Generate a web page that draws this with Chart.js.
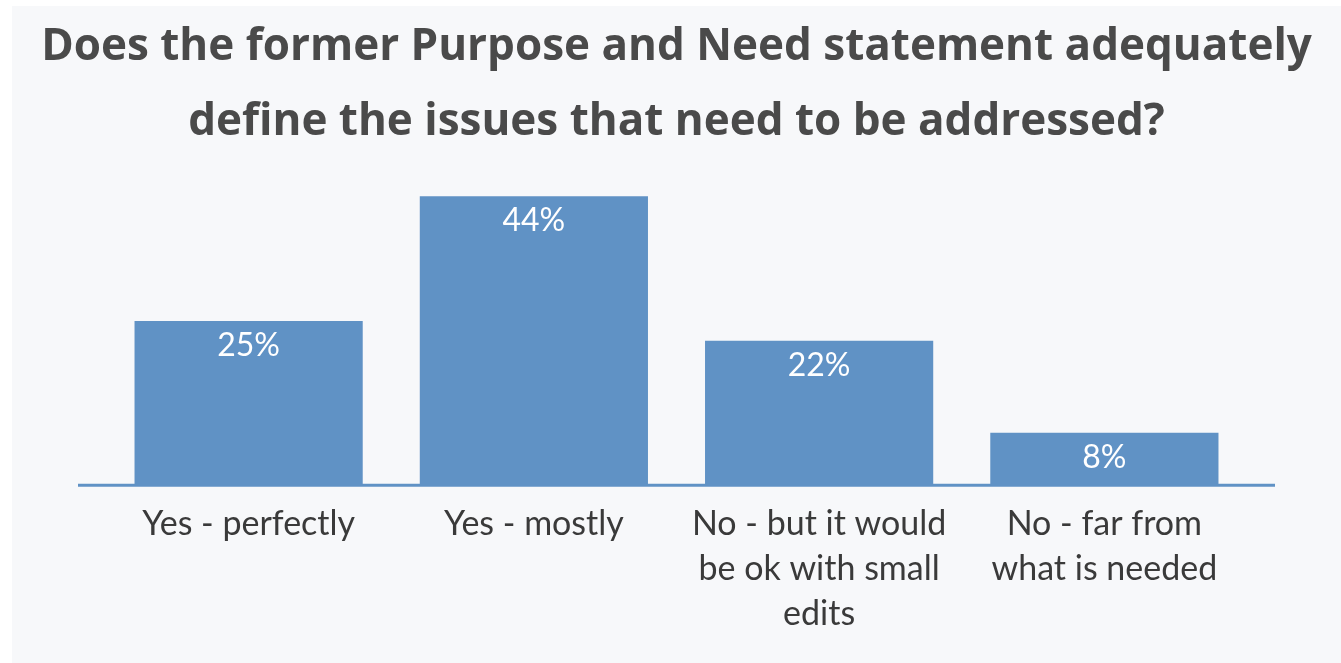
<!DOCTYPE html>
<html>
<head>
<meta charset="utf-8">
<script src="https://cdn.jsdelivr.net/npm/chart.js@4/dist/chart.umd.min.js"></script>
<style>
  html, body { margin: 0; padding: 0; background: #ffffff; }
  .chart-container {
    position: absolute;
    left: 12px;
    top: 6px;
    width: 1329px;
    height: 657px;
    background: #f7f8fa;
  }
</style>
</head>
<body>
<div class="chart-container"><canvas id="chart"></canvas></div>
<script>
// Survey answers
const categories = [
    ['Yes - perfectly'],
    ['Yes - mostly'],
    ['No - but it would', 'be ok with small', 'edits'],
    ['No - far from', 'what is needed']
];
const shares = [25, 44, 22, 8];
const titleLines = [
    'Does the former Purpose and Need statement adequately',
    'define the issues that need to be addressed?'
];

const barColor = '#6092c5';

// Title is drawn by hand: the built-in one squeezes the long first line
// into the padded box width.
const titleText = {
    id: 'titleText',
    afterDraw(chart) {
        const ctx = chart.ctx;
        ctx.save();
        ctx.fillStyle = '#4a4a4a';
        ctx.font = 'bold 44px "Open Sans"';
        ctx.textAlign = 'center';
        ctx.textBaseline = 'alphabetic';
        titleLines.forEach((line, i) => {
            ctx.fillText(line, chart.width / 2, 54 + i * 75);
        });
        ctx.restore();
    }
};

// White percentage text inside each bar, and the long baseline under the bars
const barExtras = {
    id: 'barExtras',
    afterDatasetsDraw(chart) {
        const ctx = chart.ctx;
        const meta = chart.getDatasetMeta(0);
        const yScale = chart.scales.y;
        const area = chart.chartArea;
        const base = yScale.getPixelForValue(0);

        ctx.save();
        ctx.strokeStyle = barColor;
        ctx.lineWidth = 3;
        ctx.beginPath();
        ctx.moveTo(area.left - 28, base);
        ctx.lineTo(area.right + 28, base);
        ctx.stroke();

        ctx.fillStyle = '#ffffff';
        ctx.font = '32px Lato';
        ctx.textAlign = 'center';
        ctx.textBaseline = 'middle';
        meta.data.forEach((bar, i) => {
            ctx.fillText(shares[i] + '%', bar.x, bar.y + 25);
        });
        ctx.restore();
    }
};

new Chart(document.getElementById('chart'), {
    type: 'bar',
    data: {
        labels: categories,
        datasets: [{
            data: shares,
            backgroundColor: barColor,
            borderWidth: 0,
            barPercentage: 0.8,
            categoryPercentage: 1.0
        }]
    },
    options: {
        responsive: true,
        maintainAspectRatio: false,
        animation: false,
        layout: {
            padding: { left: 94, right: 94, top: 152, bottom: 11 }
        },
        plugins: {
            legend: { display: false },
            tooltip: { enabled: false },
            title: { display: false }
        },
        scales: {
            x: {
                grid: { display: false, drawTicks: false },
                border: { display: false },
                ticks: {
                    color: '#3a3a3a',
                    font: { family: 'Lato', size: 34, lineHeight: 1.32 },
                    padding: 16,
                    maxRotation: 0,
                    autoSkip: false
                }
            },
            y: {
                display: false,
                min: 0,
                max: 49.8
            }
        }
    },
    plugins: [barExtras, titleText]
});
</script>
</body>
</html>
